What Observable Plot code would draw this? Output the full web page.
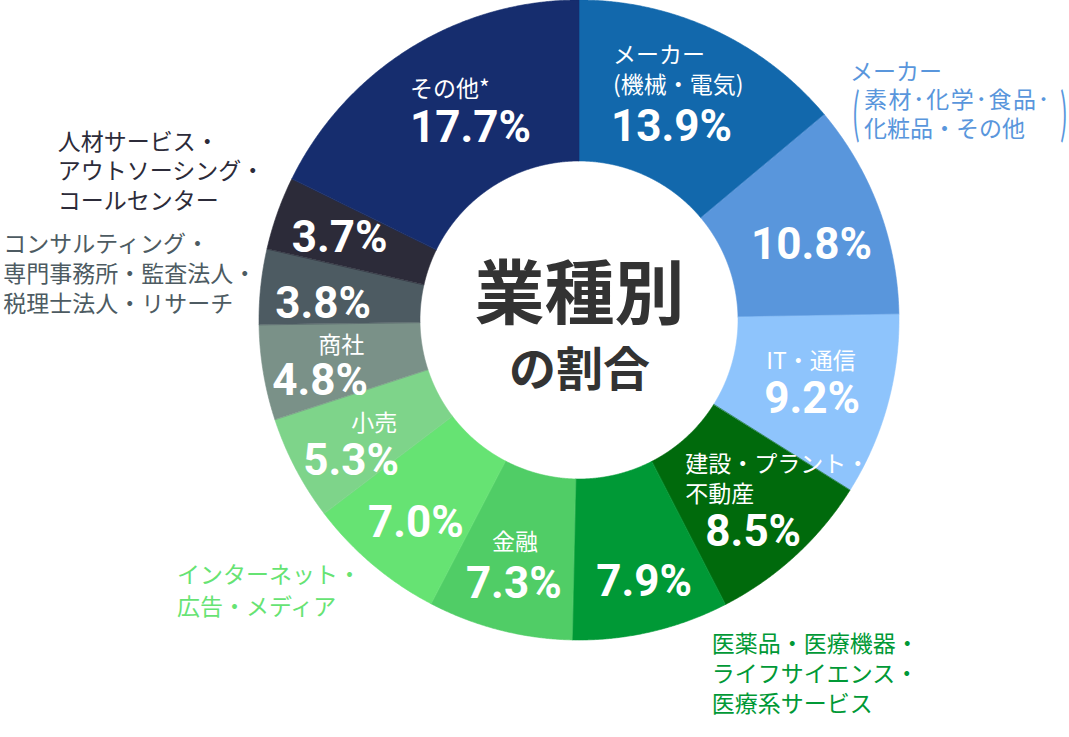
<!DOCTYPE html>
<html><head><meta charset="utf-8">
<script src="https://cdn.jsdelivr.net/npm/d3@7"></script>
<script src="https://cdn.jsdelivr.net/npm/@observablehq/plot@0.6"></script>
<style>
html,body{margin:0;padding:0;background:#fff;}
#chart svg{display:block;}
</style></head><body><div id="chart"></div>
<script>
// ---- data ----
const categories = [
  "メーカー（機械・電気）",
  "メーカー（素材・化学・食品・化粧品・その他）",
  "IT・通信",
  "建設・プラント・不動産",
  "医薬品・医療機器・ライフサイエンス・医療系サービス",
  "金融",
  "インターネット・広告・メディア",
  "小売",
  "商社",
  "コンサルティング・専門事務所・監査法人・税理士法人・リサーチ",
  "人材サービス・アウトソーシング・コールセンター",
  "その他*"
];
const values = [13.9, 10.8, 9.2, 8.5, 7.9, 7.3, 7.0, 5.3, 4.8, 3.8, 3.7, 17.7];
const innerNames = [["メーカー", "(機械・電気)"], [], ["IT・通信"], ["建設・プラント・", "不動産"], [], ["金融"], [], ["小売"], ["商社"], [], [], ["その他*"]];
const outerNames = [[], ["メーカー", "素材･化学･食品･", "化粧品・その他"], [], [],
  ["医薬品・医療機器・", "ライフサイエンス・", "医療系サービス"], [], ["インターネット・", "広告・メディア"], [], [],
  ["コンサルティング・", "専門事務所・監査法人・", "税理士法人・リサーチ"], ["人材サービス・", "アウトソーシング・", "コールセンター"], []];
const centerTitle = ["業種別", "の割合"];

// ---- style / layout ----
const colors = ["#1268ac", "#5996dc", "#8ec4fc", "#006a0c", "#009936", "#50cd66", "#66e373", "#7ed48a", "#7a9188", "#4d5b62", "#2c2b39", "#162d6e"];
const W = 1069, H = 737, CX = 579, CY = 320, R_OUT = 320, R_IN = 159, R_MID = (R_OUT + R_IN) / 2;
const pctOffset = [[-70,23.5],[-53,8.5],[-46,14],[-36,35],[-37,28],[-54,31],[-57,19.5],[-64,29],[-71,21],[-66,9],[-62,-2],[-43,10.5]];
const innerOffset = [[-68,-47.5],null,[-44,-23],[-56,-32],null,[-28,-10],null,[-16,-8],[-25,-14],null,null,[-43,-28]];
const outerOffset = [null,[46,-164.6],null,null,[78.6,90.8],null,[-248,72],null,null,[-338,-51],[-296,-98],null];
const outerStep = [0,28.5,0,0,30,0,32,0,0,30,29.5,0];
const outerIndent = [0,14,0,0,0,0,0,0,0,0,0,0];

// ---- geometry from data ----
const total = d3.sum(values);
let acc = 0;
const slices = values.map((v, i) => {
  const a0 = acc / total * 2 * Math.PI; acc += v;
  const a1 = acc / total * 2 * Math.PI;
  const mid = (a0 + a1) / 2;
  return {i, cat: categories[i], a0, a1, mid, cx: R_MID * Math.sin(mid), cy: R_MID * Math.cos(mid)};
});
const ringPts = [];
for (const s of slices) {
  const n = Math.max(2, Math.ceil((s.a1 - s.a0) / (Math.PI / 720)));
  for (let k = 0; k <= n; k++) {
    const a = s.a0 + (s.a1 - s.a0) * k / n;
    ringPts.push({cat: s.cat, x1: R_OUT * Math.sin(a), y1: R_OUT * Math.cos(a), x2: R_IN * Math.sin(a), y2: R_IN * Math.cos(a)});
  }
}
const at = (s, o) => ({x: s.cx + o[0], y: s.cy - o[1]});
const pctData = slices.map(s => ({...at(s, pctOffset[s.i]), text: values[s.i].toFixed(1) + "%"}));
const innerData = slices.flatMap(s => innerNames[s.i].map((t, l) => ({...at(s, [innerOffset[s.i][0], innerOffset[s.i][1] + l * 30]), text: t})));
const outerData = slices.flatMap(s => outerNames[s.i].map((t, l) => ({...at(s, [outerOffset[s.i][0] + (l > 0 ? outerIndent[s.i] : 0), outerOffset[s.i][1] + l * outerStep[s.i]]), text: t, color: colors[s.i]})));
const parenS = slices[1];
const parenData = [
  {...at(parenS, [outerOffset[1][0] + 2, outerOffset[1][1] + 43]), text: "("},
  {...at(parenS, [outerOffset[1][0] + 210, outerOffset[1][1] + 43]), text: ")"}
];

const jp = "'Noto Sans CJK JP', 'Noto Sans', sans-serif";
const plot = Plot.plot({
  width: W, height: H, margin: 0,
  x: {domain: [-CX, W - CX], range: [0, W], axis: null},
  y: {domain: [CY - H, CY], range: [H, 0], axis: null},
  color: {domain: categories, range: colors},
  marks: [
    Plot.area(ringPts, {x1: "x1", y1: "y1", x2: "x2", y2: "y2", z: "cat", fill: "cat", stroke: "cat", strokeWidth: 0.6, curve: "linear"}),
    Plot.text(pctData, {x: "x", y: "y", text: "text", textAnchor: "start", lineAnchor: "middle", fill: "white", fontSize: 44, fontWeight: 700, fontFamily: "Roboto, sans-serif"}),
    Plot.text(innerData, {x: "x", y: "y", text: "text", textAnchor: "start", lineAnchor: "middle", fill: "white", fontSize: 23, fontFamily: jp}),
    Plot.text(outerData, {x: "x", y: "y", text: "text", textAnchor: "start", lineAnchor: "middle", fill: d => d.color, fontSize: 23, fontFamily: jp}),
    Plot.text(parenData, {x: "x", y: "y", text: "text", textAnchor: "start", lineAnchor: "middle", fill: colors[1], fontSize: 23, fontFamily: jp}),
    Plot.text([centerTitle[0]], {x: () => 0, y: () => 0, text: d => d, dy: -24, lineAnchor: "middle", fill: "#333", fontSize: 70, fontWeight: 700, fontFamily: jp}),
    Plot.text([centerTitle[1]], {x: () => 0, y: () => 0, text: d => d, dy: 50, lineAnchor: "middle", fill: "#333", fontSize: 47, fontWeight: 700, fontFamily: jp})
  ]
});
plot.querySelectorAll("text").forEach(t => {
  if (t.textContent === "(" || t.textContent === ")") {
    const tr = t.getAttribute("transform") || "";
    t.setAttribute("transform", tr + " scale(1,2.3)");
  }
  if (t.textContent === outerNames[1][1]) t.setAttribute("letter-spacing", "1.6");
});
document.getElementById("chart").appendChild(plot);
</script></body></html>
